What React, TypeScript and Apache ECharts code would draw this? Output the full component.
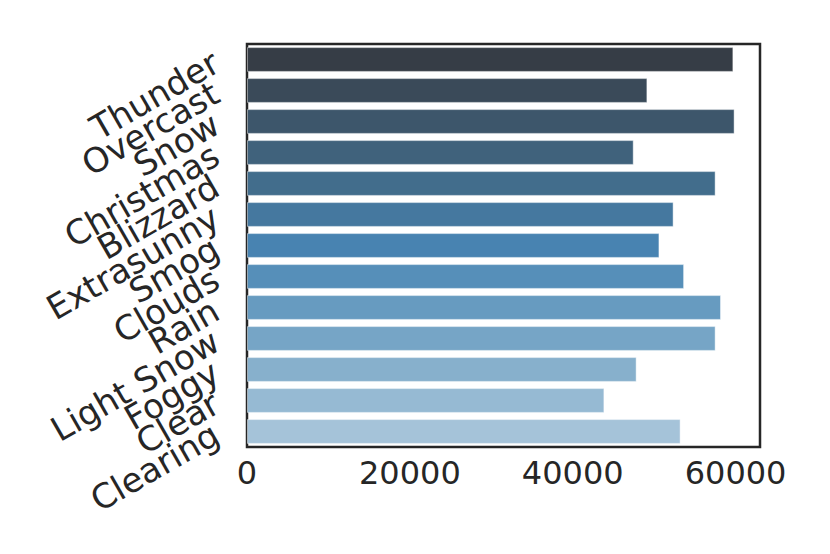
import React, { useEffect, useRef } from "react";
import * as echarts from "echarts";

const categories = [
  "Thunder", "Overcast", "Snow", "Christmas", "Blizzard", "Extrasunny", "Smog",
  "Clouds", "Rain", "Light Snow", "Foggy", "Clear", "Clearing",
];
const values = [
  59730, 49170, 59880, 47490, 57550, 52390, 50650, 53680, 58210, 57550, 47850, 43890, 53250,
];
const barColors = [
  "#363d46", "#3a4a59", "#3d566b", "#40627c", "#426d8c", "#45789f", "#4883b1",
  "#568fb9", "#679bc0", "#76a5c6", "#87b0cc", "#96bad3", "#a5c3d9",
];
const xTicks = [0, 20000, 40000, 60000];

const FONT = "DejaVu Sans";
const TEXT = "#262626";

export default function App() {
  const ref = useRef<HTMLDivElement>(null);
  useEffect(() => {
    document.body.style.margin = "0";
    const chart = echarts.init(ref.current!, undefined, { renderer: "svg" });
    chart.setOption({
      animation: false,
      backgroundColor: "#ffffff",
      grid: {
        left: 247,
        top: 44,
        right: 70,
        bottom: 107,
        show: true,
        borderColor: TEXT,
        borderWidth: 2.5,
        backgroundColor: "transparent",
      },
      xAxis: {
        type: "value",
        min: 0,
        max: 63000,
        interval: 20000,
        splitLine: { show: false },
        axisLine: { show: false },
        axisTick: { show: false },
        axisLabel: {
          fontSize: 32,
          fontFamily: FONT,
          color: TEXT,
          margin: 10,
          formatter: (v: number) => (xTicks.includes(v) ? String(v) : ""),
        },
      },
      yAxis: {
        type: "category",
        data: categories,
        inverse: true,
        axisLine: { show: false },
        axisTick: { show: false },
        splitLine: { show: false },
        axisLabel: {
          interval: 0,
          rotate: 30,
          fontSize: 34,
          fontFamily: FONT,
          color: TEXT,
          margin: 31,
        },
      },
      series: [
        {
          type: "bar",
          data: values.map((v, i) => ({ value: v, itemStyle: { color: barColors[i] } })),
          barCategoryGap: "20%",
          itemStyle: { borderColor: "rgba(255,255,255,0.45)", borderWidth: 1 },
        },
      ],
    });
    return () => chart.dispose();
  }, []);
  return <div ref={ref} style={{ width: 830, height: 554 }} />;
}
